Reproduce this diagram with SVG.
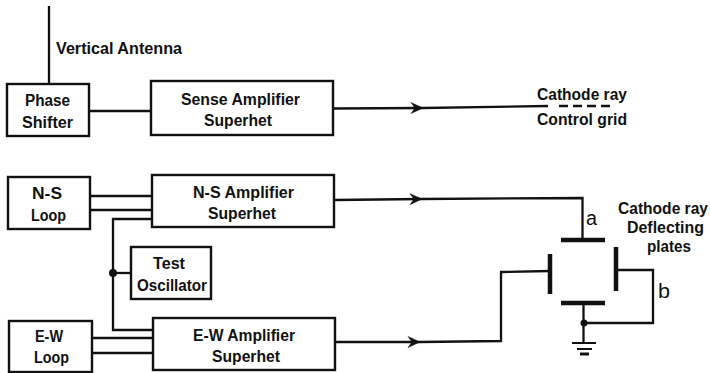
<svg xmlns="http://www.w3.org/2000/svg" width="710" height="373" viewBox="0 0 710 373">
<style>
.b{fill:#fff;stroke:#111;stroke-width:2.400}
.c{fill:none;stroke:#111;stroke-width:2.300;stroke-linejoin:miter}
.p{fill:none;stroke:#111;stroke-width:4.500}
.t{font-family:"Liberation Sans",Arial,sans-serif;font-weight:700;font-size:16px;fill:#111}
.l{font-family:"Liberation Sans",Arial,sans-serif;font-size:20px;fill:#111}
</style>
<defs>
<marker id="arr" markerUnits="userSpaceOnUse" markerWidth="16" markerHeight="16" refX="13" refY="8" orient="auto" overflow="visible">
<path d="M1 2.500L13 8L1 13.500L5 8Z" fill="#111" stroke="#111" stroke-width="0.500"/>
</marker>
</defs>
<rect width="710" height="373" fill="#fff"/>
<g id="connectors">
<path class="c" d="M49 6V84"/>
<path class="c" d="M90 111H151"/>
<path class="c" marker-end="url(#arr)" d="M333 108.500L423 108"/>
<path class="c" d="M423 108L548 106"/>
<path class="c" stroke-dasharray="9 5" d="M559 106H610"/>
<path class="c" d="M90 196H152"/>
<path class="c" d="M90 210H152"/>
<path class="c" d="M152 219H113V330H153"/>
<path class="c" d="M113 273H131"/>
<path class="c" d="M92 338H153"/>
<path class="c" d="M92 353H153"/>
<path class="c" marker-end="url(#arr)" d="M334 200L422 199"/>
<path class="c" d="M422 199L582.500 198V240"/>
<path class="c" marker-end="url(#arr)" d="M335 342H420"/>
<path class="c" d="M420 342L501 341V272L550 271"/>
<path class="c" d="M616 270H653V323H584"/>
<path class="c" d="M583.500 303V342"/>
<circle cx="113" cy="273" r="4" fill="#111"/>
<circle cx="584" cy="323" r="3.500" fill="#111"/>
</g>
<g id="antenna-label"><text class="t" x="56" y="54" textLength="126" lengthAdjust="spacingAndGlyphs">Vertical Antenna</text></g>
<g id="phase-shifter"><rect class="b" x="7" y="84" width="82" height="52"/>
<text class="t" x="25" y="106" textLength="45" lengthAdjust="spacingAndGlyphs">Phase</text>
<text class="t" x="22" y="128" textLength="51" lengthAdjust="spacingAndGlyphs">Shifter</text></g>
<g id="sense-amp"><rect class="b" x="151" y="81" width="182" height="54"/>
<text class="t" x="181" y="105" textLength="119" lengthAdjust="spacingAndGlyphs">Sense Amplifier</text>
<text class="t" x="204" y="126" textLength="68" lengthAdjust="spacingAndGlyphs">Superhet</text></g>
<g id="ns-loop"><rect class="b" x="8" y="177" width="82" height="52"/>
<text class="t" x="32" y="199" textLength="30" lengthAdjust="spacingAndGlyphs">N-S</text>
<text class="t" x="31" y="221" textLength="35" lengthAdjust="spacingAndGlyphs">Loop</text></g>
<g id="ns-amp"><rect class="b" x="152" y="175" width="182" height="52"/>
<text class="t" x="193" y="198" textLength="101" lengthAdjust="spacingAndGlyphs">N-S Amplifier</text>
<text class="t" x="208" y="219" textLength="68" lengthAdjust="spacingAndGlyphs">Superhet</text></g>
<g id="test-osc"><rect class="b" x="131" y="247" width="80" height="52"/>
<text class="t" x="153" y="269" textLength="32" lengthAdjust="spacingAndGlyphs">Test</text>
<text class="t" x="137" y="291" textLength="70" lengthAdjust="spacingAndGlyphs">Oscillator</text></g>
<g id="ew-loop"><rect class="b" x="9" y="321" width="83" height="51"/>
<text class="t" x="35" y="342" textLength="28" lengthAdjust="spacingAndGlyphs">E-W</text>
<text class="t" x="34" y="363" textLength="35" lengthAdjust="spacingAndGlyphs">Loop</text></g>
<g id="ew-amp"><rect class="b" x="153" y="318" width="182" height="52"/>
<text class="t" x="193" y="341" textLength="102" lengthAdjust="spacingAndGlyphs">E-W Amplifier</text>
<text class="t" x="212" y="362" textLength="68" lengthAdjust="spacingAndGlyphs">Superhet</text></g>
<g id="control-grid">
<text class="t" x="537" y="100" textLength="90" lengthAdjust="spacingAndGlyphs">Cathode ray</text>
<text class="t" x="537" y="125" textLength="90" lengthAdjust="spacingAndGlyphs">Control grid</text></g>
<g id="deflecting-plates">
<path class="p" d="M561 240H605M561 303H605M550 254V294M616 247V291"/>
<path fill="none" stroke="#111" stroke-width="2" d="M572 343H596M577 349H592"/>
<path fill="none" stroke="#111" stroke-width="3" d="M580 354H589"/>
<text class="l" x="586" y="225" textLength="11" lengthAdjust="spacingAndGlyphs">a</text>
<text class="l" x="658" y="298" textLength="12" lengthAdjust="spacingAndGlyphs">b</text>
<text class="t" x="618" y="214" textLength="90" lengthAdjust="spacingAndGlyphs">Cathode ray</text>
<text class="t" x="627" y="233" textLength="77" lengthAdjust="spacingAndGlyphs">Deflecting</text>
<text class="t" x="647" y="252" textLength="44" lengthAdjust="spacingAndGlyphs">plates</text></g>
</svg>
